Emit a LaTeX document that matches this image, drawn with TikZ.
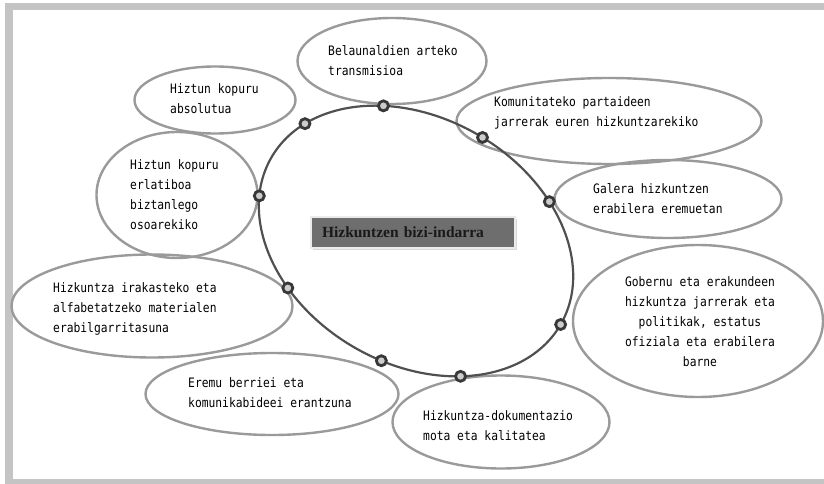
\documentclass[tikz,border=0pt]{standalone}
\usepackage{fontspec}
\usepackage{tikz}
\usetikzlibrary{shapes.geometric}
\usetikzlibrary{shadows}
\newfontfamily\bubblefont[FakeStretch=0.87]{DejaVu Sans Mono}
\newfontfamily\corefont{Liberation Serif}
\definecolor{framegray}{HTML}{C4C4C4}
\definecolor{bubblegray}{HTML}{9A9A9A}
\definecolor{ringgray}{HTML}{505050}
\definecolor{coregray}{HTML}{6E6E6E}

\begin{document}
\begin{tikzpicture}[x=1pt, y=-1pt,
		bubble/.style={ellipse, draw=bubblegray, line width=2.4pt, inner sep=0pt},
		bubbletext/.style={anchor=west, align=left, inner sep=0pt, text=black,
			font=\bubblefont\fontsize{13}{20}\selectfont},
		knot/.style={circle, draw=black!78, fill=black!20, line width=2.8pt,
			minimum size=10pt, inner sep=0pt}]
		\useasboundingbox (0,0) rectangle (824,484);
		% frame
		\fill[framegray] (5,3) rectangle (824,10);
		\fill[framegray] (5,3) rectangle (13,484);
		\fill[framegray] (5,479) rectangle (824,484);
		% outer bubbles
		\node[bubble, minimum width=189pt, minimum height=86pt] (bel) at (392,61) {};
		\node[bubble, minimum width=161pt, minimum height=67pt] (abs) at (215,100) {};
		\node[bubble, minimum width=305pt, minimum height=86pt] (kom) at (609,121) {};
		\node[bubble, minimum width=161pt, minimum height=126pt] (erl) at (177,195) {};
		\node[bubble, minimum width=227pt, minimum height=78pt] (gal) at (668,199) {};
		\node[bubble, minimum width=281pt, minimum height=103pt] (irak) at (152,306) {};
		\node[bubble, minimum width=250pt, minimum height=152pt] (gob) at (698,321) {};
		\node[bubble, minimum width=253pt, minimum height=82pt] (erem) at (272,394) {};
		\node[bubble, minimum width=217pt, minimum height=93pt] (dok) at (501,422) {};
		% texts
		\node[bubbletext] (belText) at (328,61) {Belaunaldien arteko\\transmisioa};
		\node[bubbletext] (absText) at (170,99) {Hiztun kopuru\\absolutua};
		\node[bubbletext] (komText) at (494,113) {Komunitateko partaideen\\jarrerak euren hizkuntzarekiko};
		\node[bubbletext] (erlText) at (130,195) {Hiztun kopuru\\erlatiboa\\biztanlego\\osoarekiko};
		\node[bubbletext] (galText) at (593,199) {Galera hizkuntzen\\erabilera eremuetan};
		\node[bubbletext] (irakText) at (53,309) {Hizkuntza irakasteko eta\\alfabetatzeko materialen\\erabilgarritasuna};
		\node[bubbletext, anchor=center, align=center] (gobText) at (700,322) {Gobernu eta erakundeen\\hizkuntza jarrerak eta\\politikak, estatus\\ofiziala eta erabilera\\barne};
		\node[bubbletext] (eremText) at (188,393) {Eremu berriei eta\\komunikabideei erantzuna};
		\node[bubbletext] (dokText) at (423,426) {Hizkuntza-dokumentazio\\mota eta kalitatea};
		% ring with knots
		\begin{scope}[shift={(416,241)}, rotate=-30]
			\draw[ringgray, line width=2.2pt] (0,0) ellipse [x radius=167, y radius=123];
			\node[knot] (kBel) at (235:167 and 123) {};
			\node[knot] (kAbs) at (202:167 and 123) {};
			\node[knot] (kKom) at (272:167 and 123) {};
			\node[knot] (kGal) at (305:167 and 123) {};
			\node[knot] (kGob) at (0:167 and 123) {};
			\node[knot] (kDok) at (50.5:167 and 123) {};
			\node[knot] (kErem) at (79.7:167 and 123) {};
			\node[knot] (kIrak) at (121.6:167 and 123) {};
			\node[knot] (kErl) at (161.4:167 and 123) {};
		\end{scope}
		% title
		\node[fill=coregray, draw=black!8, line width=2pt, text=black!90,
			drop shadow={shadow xshift=2pt, shadow yshift=-2pt, fill=black!30},
			minimum width=204pt, minimum height=31pt, text width=182pt, align=left,
			inner xsep=9pt, font=\corefont\bfseries\fontsize{15.5}{17}\selectfont] (core) at (413,232) {Hizkuntzen bizi-indarra};
\end{tikzpicture}
\end{document}
